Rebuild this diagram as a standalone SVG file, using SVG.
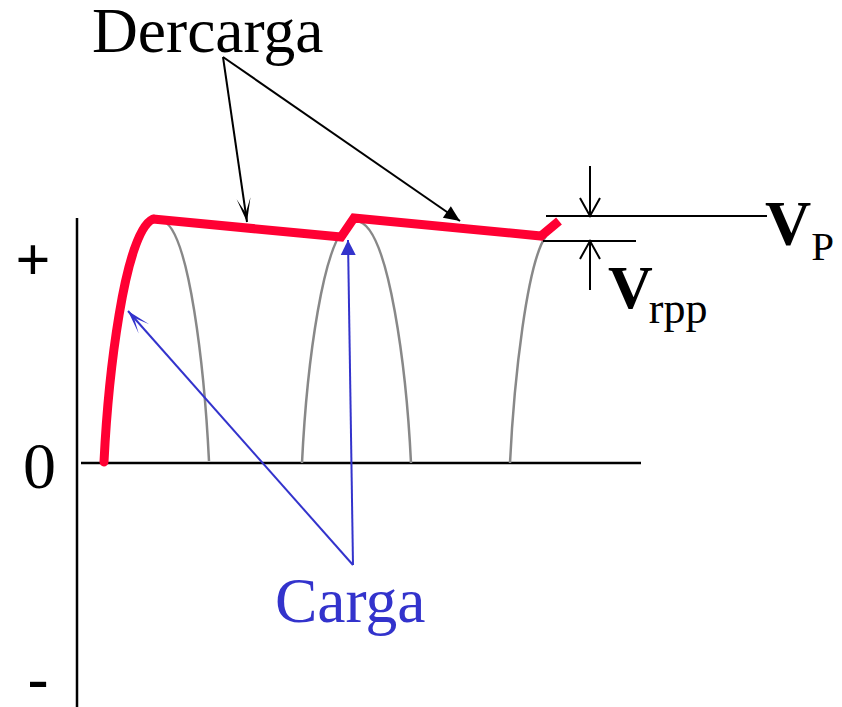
<svg xmlns="http://www.w3.org/2000/svg" width="842" height="707" viewBox="0 0 842 707">
<style>
.t{font-family:"Liberation Serif","Times New Roman",serif;fill:#000}
.blue{fill:#3333CC}
.ax{stroke:#000;stroke-width:2.5;fill:none}
.hump{stroke:#888;stroke-width:2.5;fill:none}
.red{stroke:#FF0033;stroke-width:9;fill:none}
.k{stroke:#000;stroke-width:2;fill:none}
.b{stroke:#3333CC;stroke-width:2;fill:none}
</style>
<defs>
<marker id="stK" markerUnits="userSpaceOnUse" orient="auto" viewBox="-26 -10 28 20" markerWidth="28" markerHeight="20" refX="0" refY="0" overflow="visible"><path d="M0,0 L-24,-7 L-9,0 L-24,7 Z" fill="#000"/></marker>
<marker id="stB" markerUnits="userSpaceOnUse" orient="auto" viewBox="-26 -10 28 20" markerWidth="28" markerHeight="20" refX="0" refY="0" overflow="visible"><path d="M0,0 L-24,-7 L-9,0 L-24,7 Z" fill="#3333CC"/></marker>
<marker id="trK" markerUnits="userSpaceOnUse" orient="auto" viewBox="-18 -10 20 20" markerWidth="20" markerHeight="20" refX="0" refY="0" overflow="visible"><path d="M0,0 L-16,-7 L-16,7 Z" fill="#000"/></marker>
<marker id="trB" markerUnits="userSpaceOnUse" orient="auto" viewBox="-18 -10 20 20" markerWidth="20" markerHeight="20" refX="0" refY="0" overflow="visible"><path d="M0,0 L-15,-7.5 L-15,7.5 Z" fill="#3333CC"/></marker>
<marker id="vK" markerUnits="userSpaceOnUse" orient="auto" viewBox="-20 -12 22 24" markerWidth="22" markerHeight="24" refX="0" refY="0" overflow="visible"><path d="M-18,-10 L0,0 L-18,10" fill="none" stroke="#000" stroke-width="2"/></marker>
</defs>

<g id="axes">
<line class="ax" x1="77" y1="218" x2="77" y2="707"/>
<line class="ax" x1="81" y1="463" x2="641" y2="463"/>
</g>

<g id="rectified-wave">
<path class="hump" d="M160,220 C190,222 205,380 209,461"/>
<path class="hump" d="M302,463 C306,380 322,222 356,221 C390,222 407,380 411,463"/>
<path class="hump" d="M510,463 C514,380 527,262 546,236"/>
</g>

<g id="filtered-output">
<path class="red" stroke-linecap="round" d="M104,462 C108,380 124,232 153,219"/>
<path class="red" stroke-linejoin="miter" d="M153,219 L341,237 L354,218 L541,236 L559,221"/>
</g>

<g id="dimension">
<line class="k" x1="546" y1="216" x2="767" y2="216"/>
<line class="k" x1="543" y1="241" x2="636" y2="241"/>
</g>

<g id="connectors">
<line class="k" x1="223" y1="57" x2="247" y2="222" marker-end="url(#stK)"/>
<line class="k" x1="223" y1="57" x2="460" y2="221" marker-end="url(#trK)"/>
<line class="b" x1="353" y1="565" x2="128" y2="311" marker-end="url(#stB)"/>
<line class="b" x1="353" y1="565" x2="348" y2="240" marker-end="url(#trB)"/>
<line class="k" x1="590" y1="166" x2="590" y2="216" marker-end="url(#vK)"/>
<line class="k" x1="590" y1="290" x2="590" y2="241" marker-end="url(#vK)"/>
</g>

<g id="labels">
<text class="t" x="92" y="52" font-size="63.5">Dercarga</text>
<text class="t blue" x="275" y="622" font-size="63.5">Carga</text>
<text class="t" x="33" y="280" font-size="62" font-weight="bold" text-anchor="middle">+</text>
<text class="t" x="39.5" y="488" font-size="66" text-anchor="middle">0</text>
<text class="t" x="38" y="699" font-size="62" font-weight="bold" text-anchor="middle">-</text>
<text class="t" x="765" y="245" font-size="64" font-weight="bold">V<tspan font-size="41" font-weight="normal" dy="15">P</tspan></text>
<text class="t" x="608" y="308" font-size="62" font-weight="bold">V<tspan font-size="44" font-weight="normal" dx="-4" dy="15">rpp</tspan></text>
</g>
</svg>
